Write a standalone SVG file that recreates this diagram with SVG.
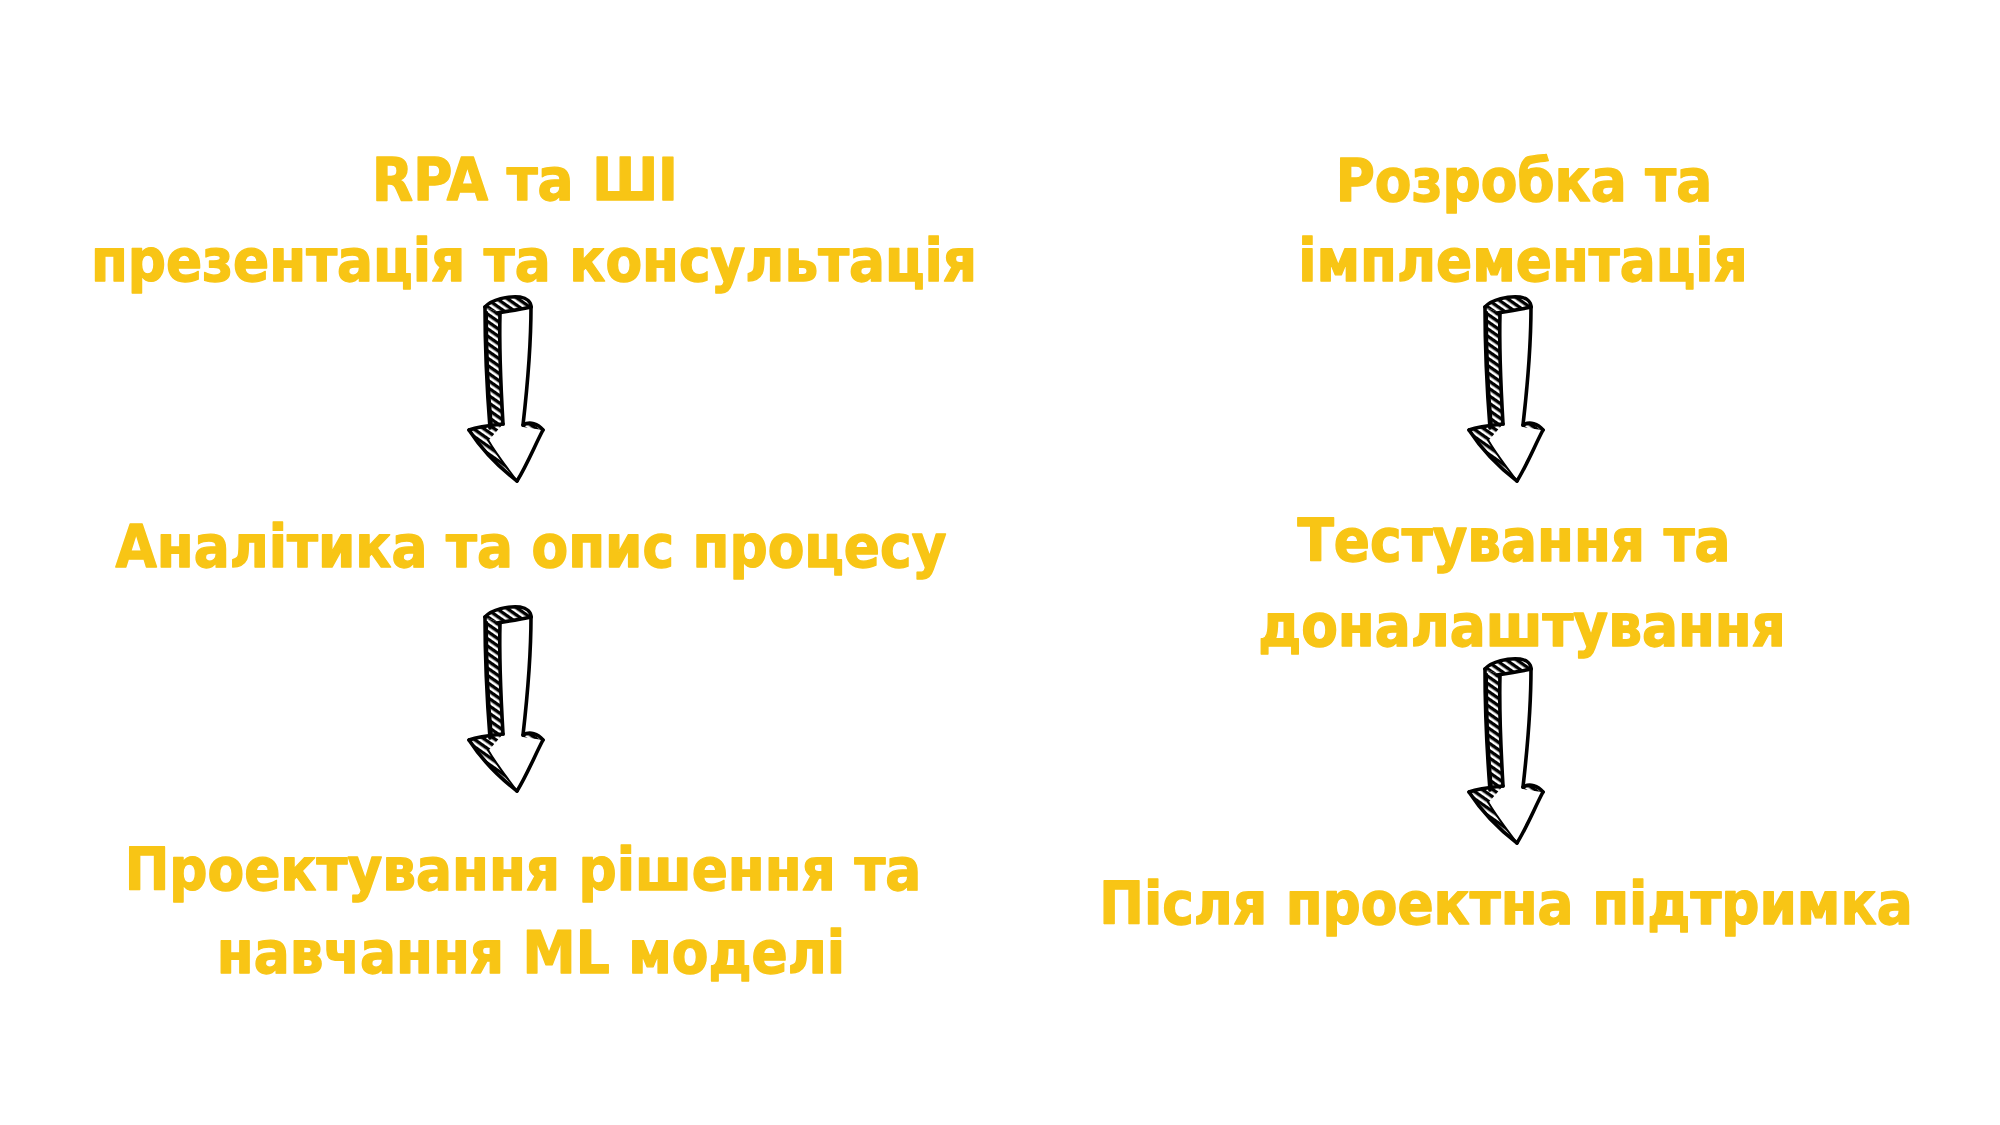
<svg xmlns="http://www.w3.org/2000/svg" xmlns:xlink="http://www.w3.org/1999/xlink" width="2000" height="1125" viewBox="0 0 2000 1125">
  <style>
    .lbl { font-family: "DejaVu Sans Condensed", "DejaVu Sans", Verdana, sans-serif; font-stretch: condensed; font-weight: bold; font-size: 59.3px; fill: #F8C515; stroke: #F8C515; stroke-width: 1.3; stroke-linejoin: round; text-anchor: middle; }
    .ink { fill: none; stroke: #000; stroke-width: 3.6; stroke-linecap: round; stroke-linejoin: round; }
    .ink2 { fill: none; stroke: #000; stroke-width: 2; stroke-linecap: round; }
    .hatch { fill: url(#hatchPat); stroke: none; }
  </style>
  <defs>
    <pattern id="hatchPat" patternUnits="userSpaceOnUse" width="6" height="6" patternTransform="rotate(35)">
      <rect width="6" height="6" fill="#fff"/>
      <rect width="6" height="3.4" fill="#000"/>
    </pattern>
    <g id="sketchArrow">
      <path fill="#fff" d="M500,313 C510,311 520,309 531,307 C531,350 527,390 523,426 L543,430 L517,481 L490,440 L503,425 C501,390 499,350 500,313 Z"/>
      <path class="hatch" d="M485,307 C485,340 487,390 490,428 L503,424 C501,390 499,350 500,313 Z"/>
      <path class="hatch" d="M485,307 C492,299 508,296 520,297 C527,298 531,302 531,307 C520,309 508,311 500,313 Z"/>
      <path class="hatch" d="M469,430 C480,426 493,425 503,424 L489,440 C497,455 507,468 517,481 C500,468 482,450 469,430 Z"/>
      <path class="hatch" d="M523,425 C530,421 538,424 543,430 C536,429 529,428 523,427 Z"/>
      <path class="ink" d="M485,307 C492,299 508,296 520,297 C527,298 531,302 531,307"/>
      <path class="ink" d="M497,313 C510,311 522,309 531,307"/>
      <path class="ink" d="M485,307 C485,340 487,390 490,428"/>
      <path class="ink" d="M500,313 C499,350 501,390 503,424"/>
      <path class="ink" d="M531,307 C531,350 527,390 523,425"/>
      <path class="ink" d="M523,425 C530,421 538,424 543,430"/>
      <path class="ink" d="M543,430 C535,445 527,465 517,481"/>
      <path class="ink" d="M469,430 C480,426 493,425 503,424"/>
      <path class="ink" d="M469,430 C482,450 500,468 517,481"/>
      <path class="ink2" d="M488,440 C497,455 507,468 517,481"/>
      <path class="ink2" d="M487,312 C487,350 489,395 492,426"/>
    </g>
  </defs>
  <rect width="2000" height="1125" fill="#fff"/>

  <g id="connectors">
    <use id="arrow-1" xlink:href="#sketchArrow" href="#sketchArrow"/>
    <use id="arrow-2" xlink:href="#sketchArrow" href="#sketchArrow" transform="translate(0,310)"/>
    <use id="arrow-3" xlink:href="#sketchArrow" href="#sketchArrow" transform="translate(1000,0)"/>
    <use id="arrow-4" xlink:href="#sketchArrow" href="#sketchArrow" transform="translate(1000,362)"/>
  </g>

  <g id="node-rpa">
    <text class="lbl" x="525" y="200">RPA та ШІ</text>
    <text class="lbl" x="534" y="281">презентація та консультація</text>
  </g>
  <g id="node-analytics">
    <text class="lbl" x="531" y="567">Аналітика та опис процесу</text>
  </g>
  <g id="node-design">
    <text class="lbl" x="523" y="890">Проектування рішення та</text>
    <text class="lbl" x="531" y="973">навчання ML моделі</text>
  </g>
  <g id="node-dev">
    <text class="lbl" x="1524" y="201">Розробка та</text>
    <text class="lbl" x="1523" y="281">імплементація</text>
  </g>
  <g id="node-test">
    <text class="lbl" x="1514" y="561">Тестування та</text>
    <text class="lbl" x="1522" y="646">доналаштування</text>
  </g>
  <g id="node-support">
    <text class="lbl" x="1506" y="924">Після проектна підтримка</text>
  </g>
</svg>
